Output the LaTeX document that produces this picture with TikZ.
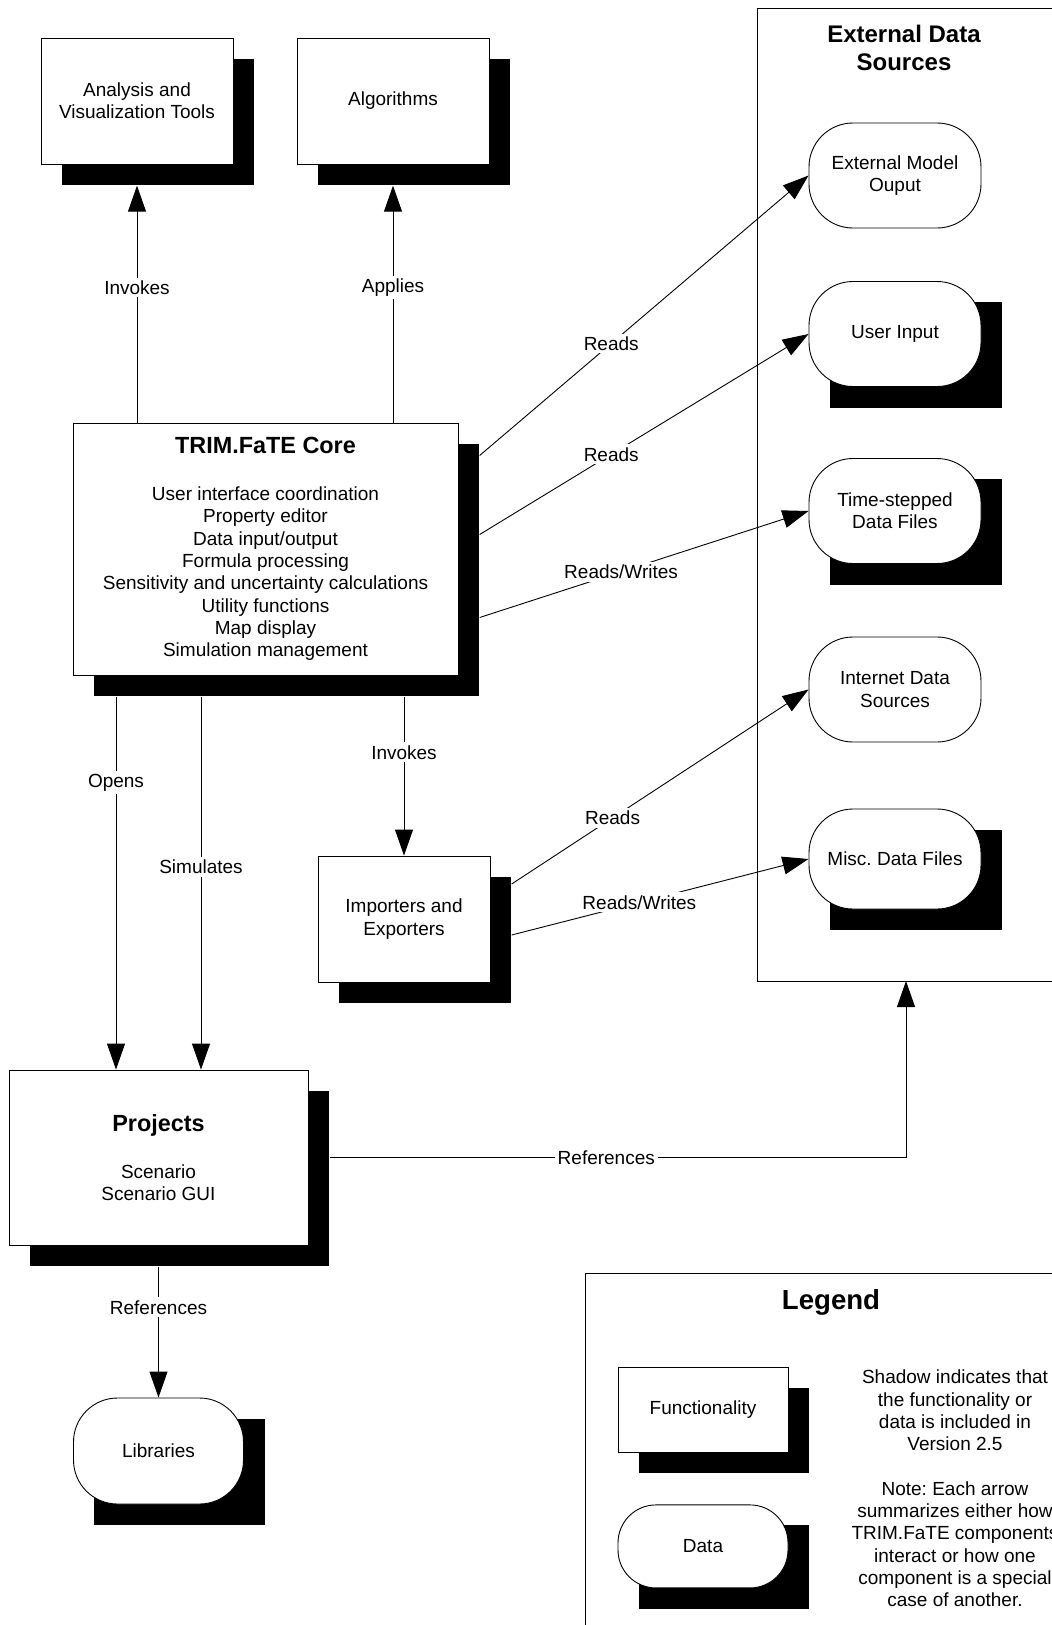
\documentclass[tikz,border=0pt]{standalone}
\usepackage{fontspec}
\setmainfont{Liberation Sans}
\usetikzlibrary{
  positioning,
  fit,
  backgrounds,
  arrows.meta
}
\frenchspacing

\newcommand\bodyfont{\fontsize{19}{22.3}\selectfont}
\newcommand\headfont{\bfseries\fontsize{23.4}{28}\selectfont}
\newcommand\framefont{\bfseries\fontsize{24}{28}\selectfont}
\newcommand\legfont{\bfseries\fontsize{27.6}{32}\selectfont}

\tikzset{
  func/.style={draw, fill=white, line width=0.9pt, align=center, inner sep=0pt, font=\bodyfont},
  data/.style={func, rounded corners=44pt},
  shade/.style={fill=black, draw=none, inner sep=0pt},
  lbl/.style={fill=white, inner sep=3pt, font=\bodyfont},
  link/.style={line width=0.9pt, ->},
  >={Triangle[length=26pt,width=18pt]}
}

\begin{document}
\begin{tikzpicture}[x=1pt, y=-1pt]
    \useasboundingbox (0,0) rectangle (1052,1625);

    \node[func, minimum width=192pt, minimum height=126pt] (ana) at (137,101) {Analysis and\\Visualization Tools};
    \node[func, minimum width=192pt, minimum height=126pt] (alg) at (393,101) {Algorithms};
    \node[func, minimum width=385pt, minimum height=252pt] (core) at (265.5,549)
      {{\headfont TRIM.FaTE Core}\\[24.7pt]
       User interface coordination\\ Property editor\\ Data input/output\\ Formula processing\\
       Sensitivity and uncertainty calculations\\ Utility functions\\ Map display\\ Simulation management};
    \node[func, minimum width=172pt, minimum height=126pt] (imp) at (404,919) {Importers and\\Exporters};
    \node[func, minimum width=299pt, minimum height=175pt] (proj) at (158.5,1157.5)
      {{\headfont Projects}\\[24.7pt] Scenario\\ Scenario GUI};
    \node[data, minimum width=170pt, minimum height=106pt] (lib) at (158.5,1451) {Libraries};

    \node[data, minimum width=172pt, minimum height=105pt] (emo) at (895,175.5) {External Model\\Ouput};
    \node[data, minimum width=172pt, minimum height=105pt] (ui) at (895,334) {User Input};
    \node[data, minimum width=172pt, minimum height=105pt] (ts) at (895,511) {Time-stepped\\Data Files};
    \node[data, minimum width=172pt, minimum height=105pt] (ids) at (895,689.5) {Internet Data\\Sources};
    \node[data, minimum width=172pt, minimum height=100pt] (misc) at (895,859) {Misc. Data Files};

    \draw[line width=0.9pt] (1052,8) -| (757,981) -- (1052,981);
    \coordinate (ext-b) at (906,981);
    \node[font=\framefont, align=center] (ext-t) at (904,48) {External Data\\Sources};

    \draw[line width=0.9pt] (1052,1273) -| (585,1625);
    \node[font=\legfont] (leg-t) at (831,1302) {Legend};
    \node[func, minimum width=170pt, minimum height=85pt] (fun) at (703,1409.5) {Functionality};
    \node[data, rounded corners=38pt, minimum width=170pt, minimum height=83pt, below=52pt of fun] (dat) {Data};
    \node[font=\bodyfont, align=center] (leg-n) at (955,1488.5)
      {Shadow indicates that\\ the functionality or\\ data is included in\\ Version 2.5\\[22.3pt]
       Note: Each arrow\\ summarizes either how\\ TRIM.FaTE components\\ interact or how one\\
       component is a special\\ case of another.};

    \begin{scope}[on background layer]
      \foreach \n in {ana,alg,core,imp,proj,lib,ui,ts,misc,fun,dat}
        \node[shade, fit=(\n), xshift=21pt, yshift=-21pt] (\n-s) {};
    \end{scope}

    \draw[link] (ana.south |- core.north) -- node[lbl, pos=0.57]{Invokes} (ana.south |- ana-s.south);
    \draw[link] (alg.south |- core.north) -- node[lbl, pos=0.57]{Applies} (alg.south |- alg-s.south);

    \draw[link] ([yshift=114.5pt]core-s.east) -- node[lbl, pos=0.4]{Reads} (emo.west);
    \draw[link] ([yshift=35.5pt]core-s.east) -- node[lbl, pos=0.4]{Reads} (ui.west);
    \draw[link] ([yshift=-47.5pt]core-s.east) -- node[lbl, pos=0.43]{Reads/Writes} (ts.west);
    \draw[link] ([yshift=56pt]imp-s.east) -- node[lbl, pos=0.34]{Reads} (ids.west);
    \draw[link] ([yshift=5pt]imp-s.east) -- node[lbl, pos=0.43]{Reads/Writes} (misc.west);

    \coordinate (op) at ([xshift=-42.5pt]proj.north);
    \coordinate (sim) at ([xshift=42.5pt]proj.north);
    \draw[link] (op |- core-s.south) -- node[lbl, pos=0.23]{Opens} (op);
    \draw[link] (sim |- core-s.south) -- node[lbl, pos=0.456]{Simulates} (sim);
    \draw[link] (imp.north |- core-s.south) -- node[lbl, pos=0.35]{Invokes} (imp.north);

    \draw[link] (proj-s.east |- proj.east) -- node[lbl, pos=0.48]{References} (ext-b |- proj.east) -- (ext-b);
    \draw[link] (proj.south |- proj-s.south) -- node[lbl, pos=0.31]{References} (lib.north);
\end{tikzpicture}
\end{document}
